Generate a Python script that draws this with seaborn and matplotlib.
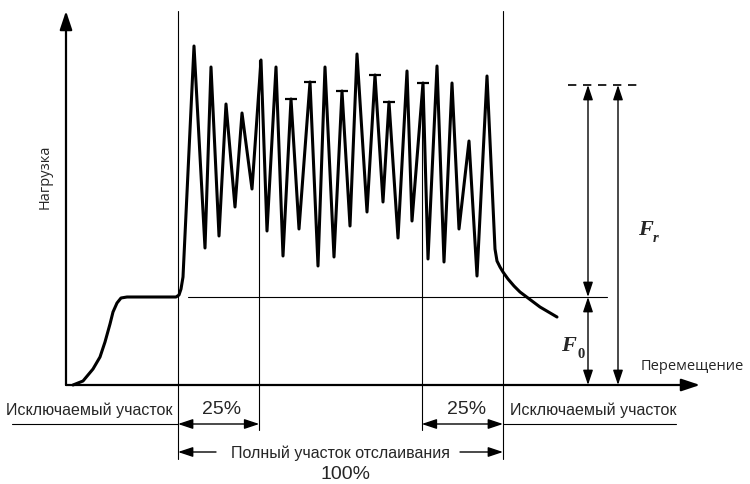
import matplotlib
matplotlib.use("Agg")
import matplotlib.pyplot as plt
import seaborn as sns
import pandas as pd

# load-displacement curve, origin at the axes crossing
disp = [7, 17, 27, 34, 39, 44, 47, 51, 55, 61, 110, 113, 115, 117,
        128, 139, 145, 153, 160, 169, 176, 186, 195, 201,
        210, 217, 225, 233, 244, 252, 259, 268, 276, 284,
        291, 301, 309, 317, 323, 332, 341, 346, 357, 362,
        371, 378, 386, 393, 403, 411, 421,
        429, 431, 434, 437, 442, 448, 454, 462, 474, 491]
load = [0, 4, 16, 28, 43, 61, 73, 82, 87, 88, 88, 90, 96, 108,
        339, 137, 318, 149, 281, 178, 272, 196, 325, 154,
        318, 129, 286, 156, 303, 119, 318, 128, 294, 159,
        331, 173, 310, 183, 283, 147, 314, 164, 302, 126,
        319, 123, 302, 156, 244, 109, 309,
        136, 124, 118, 113, 106, 99, 93, 87, 78, 68]

# peaks marked with a short cap
cap_disp = [225, 244, 276, 309, 323, 357]
cap_load = [286, 303, 294, 310, 283, 302]

peel_start, peel_end = 112, 437
f0_level = 88
fr_level = 300
excl_label = "Исключаемый участок"
full_label = "Полный участок отслаивания"

curve = pd.DataFrame({"disp": disp, "load": load})
caps = pd.DataFrame({"disp": cap_disp, "load": cap_load})

sns.set_theme(style="white")
plt.rcParams["font.family"] = ["Liberation Sans", "DejaVu Sans"]

fig = plt.figure(figsize=(7.5, 4.85), dpi=100)
ax = fig.add_axes([0, 0, 1, 1])
ax.set_xlim(-66, 684)
ax.set_ylim(-99, 386)
ax.axis("off")

sns.lineplot(data=curve, x="disp", y="load", sort=False, estimator=None,
             color="black", lw=2.2, ax=ax)
sns.scatterplot(data=caps, x="disp", y="load", marker="_", s=70,
                color="black", linewidth=1.6, ax=ax)


def arrow(x0, y0, x1, y1, style="<|-|>", lw=1.0, hl=0.6, hw=0.2):
    ax.annotate("", xy=(x1, y1), xytext=(x0, y0),
                arrowprops=dict(arrowstyle=f"{style},head_length={hl},head_width={hw}",
                                color="black", lw=lw, mutation_scale=15,
                                shrinkA=0, shrinkB=0))


# axes
arrow(0, 0, 0, 374, style="-|>", lw=1.6, hl=0.75, hw=0.25)
arrow(0, 0, 634, 0, style="-|>", lw=1.6, hl=0.75, hw=0.25)

q1 = peel_start + 0.25 * (peel_end - peel_start)
q3 = peel_start + 0.75 * (peel_end - peel_start)

# vertical markers
ax.plot([peel_start, peel_start], [374, -74], color="black", lw=0.8)
ax.plot([peel_end, peel_end], [374, -74], color="black", lw=0.8)
ax.plot([q1, q1], [325, -45], color="black", lw=0.8)
ax.plot([q3, q3], [302, -45], color="black", lw=0.8)

# F0 / Fr levels
ax.plot([122, 541], [f0_level, f0_level], color="black", lw=0.8)
ax.plot([502, 572], [fr_level, fr_level], color="black", lw=1.2,
        linestyle=(0, (5, 4)))
arrow(522, f0_level, 522, fr_level)
arrow(522, 0, 522, f0_level)
arrow(552, 0, 552, fr_level)

serif = ["Liberation Serif", "DejaVu Serif"]
ax.text(572, 156, "F", fontsize=16, family=serif, weight="bold", style="italic",
        ha="left", va="center")
ax.text(587, 148, "r", fontsize=10.5, family=serif, weight="bold", style="italic",
        ha="left", va="center")
ax.text(495, 40, "F", fontsize=16, family=serif, weight="bold", style="italic",
        ha="left", va="center")
ax.text(511, 32, "0", fontsize=10.5, family=serif, weight="bold",
        ha="left", va="center")

ax.text(575, 19, "Перемещение", fontsize=10.5, family=["Open Sans", "DejaVu Sans"],
        ha="left", va="center")
ax.text(-21, 209, "Нагрузка", fontsize=10.5, family=["Open Sans", "DejaVu Sans"],
        rotation=90, ha="center", va="center")

# bottom annotations
ax.plot([-54, peel_start], [-39, -39], color="black", lw=0.8)
ax.plot([peel_end, 610], [-39, -39], color="black", lw=0.8)
arrow(peel_start, -39, q1, -39)
arrow(q3, -39, peel_end, -39)
ax.text(107, -24, excl_label, fontsize=11.5, ha="right", va="center")
ax.text(444, -24, excl_label, fontsize=11.5, ha="left", va="center")
ax.text((peel_start + q1) / 2 + 3, -24, "25%", fontsize=14, ha="center", va="center")
ax.text((q3 + peel_end) / 2 + 4, -24, "25%", fontsize=14, ha="center", va="center")

mid = (peel_start + peel_end) / 2
arrow(150, -67, peel_start, -67, style="-|>")
arrow(394, -67, peel_end, -67, style="-|>")
ax.text(mid, -67, full_label, fontsize=11.5, ha="center", va="center")
ax.text(mid + 5, -89, "100%", fontsize=14, ha="center", va="center")

fig.savefig("out.png", dpi=100)
